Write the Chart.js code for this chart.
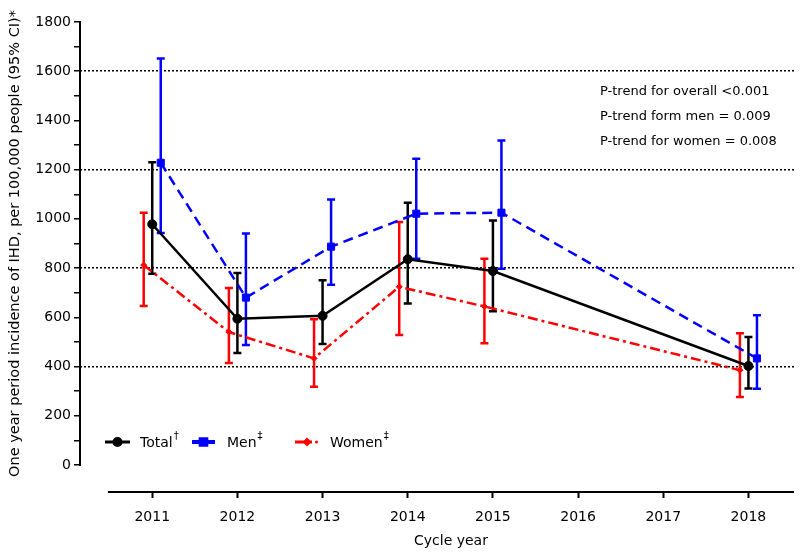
<!DOCTYPE html>
<html>
<head>
<meta charset="utf-8">
<title>IHD incidence by cycle year</title>
<script src="https://cdn.jsdelivr.net/npm/chart.js@4.4.0/dist/chart.umd.min.js"></script>
<style>
  html, body { margin: 0; padding: 0; background: #fff; }
  #wrap { width: 800px; height: 557px; position: relative; }
</style>
</head>
<body>
<div id="wrap"><canvas id="ihd-chart"></canvas></div>
<script>
// values
const years = [2011, 2012, 2013, 2014, 2015, 2018];
const xTicks = [2011, 2012, 2013, 2014, 2015, 2016, 2017, 2018];

const totalRate = [978, 594, 606, 836, 788, 402];
const totalLow = [777, 455, 491, 656, 625, 311];
const totalHigh = [1230, 780, 751, 1065, 993, 520];

const menRate = [1228, 680, 887, 1021, 1025, 433];
const menLow = [943, 487, 732, 838, 797, 310];
const menHigh = [1652, 940, 1079, 1244, 1318, 608];

const womenRate = [812, 540, 433, 724, 644, 385];
const womenLow = [646, 414, 318, 528, 494, 276];
const womenHigh = [1025, 719, 592, 987, 838, 535];

const yMajor = 200;
const yMinor = 100;
const yMax = 1800;
const gridValues = [400, 800, 1200, 1600];

const notes = [
    'P-trend for overall <0.001',
    'P-trend form men = 0.009',
    'P-trend for women = 0.008'
];

const FONT = "'DejaVu Sans', sans-serif";

// small dodge so the three series don't sit on top of each other
const menShift = 0.1;
const womenShift = -0.1;

function toPoints(rates, shift) {
    return years.map((yr, i) => ({ x: yr + shift, y: rates[i] }));
}

// error bars drawn from the low/high arrays through the y scale
const errorBars = {
    id: 'errorBars',
    beforeDatasetsDraw(chart) {
        const ctx = chart.ctx;
        const yScale = chart.scales.y;
        chart.data.datasets.forEach((ds, di) => {
            const meta = chart.getDatasetMeta(di);
            ctx.save();
            ctx.strokeStyle = ds.borderColor;
            ctx.lineWidth = 2.5;
            ctx.setLineDash([]);
            meta.data.forEach((pt, i) => {
                const top = yScale.getPixelForValue(ds.high[i]);
                const bot = yScale.getPixelForValue(ds.low[i]);
                ctx.beginPath();
                ctx.moveTo(pt.x, top);
                ctx.lineTo(pt.x, bot);
                ctx.moveTo(pt.x - 4, top);
                ctx.lineTo(pt.x + 4, top);
                ctx.moveTo(pt.x - 4, bot);
                ctx.lineTo(pt.x + 4, bot);
                ctx.stroke();
            });
            ctx.restore();
        });
    }
};

// detached axis lines, titles, legend and the p-trend notes
const decorations = {
    id: 'decorations',
    afterDraw(chart) {
        const ctx = chart.ctx;
        const x = chart.scales.x;
        const y = chart.scales.y;
        const area = chart.chartArea;
        const xStart = x.getPixelForValue(2010.48);

        ctx.save();
        ctx.strokeStyle = '#000';
        ctx.lineWidth = 2;
        ctx.setLineDash([]);
        ctx.beginPath();
        ctx.moveTo(area.left, y.getPixelForValue(0) + 1);
        ctx.lineTo(area.left, y.getPixelForValue(yMax) - 1);
        ctx.moveTo(xStart, area.bottom);
        ctx.lineTo(area.right, area.bottom);
        ctx.stroke();

        ctx.fillStyle = '#000';
        ctx.font = '14px ' + FONT;
        ctx.textAlign = 'center';
        ctx.textBaseline = 'middle';
        ctx.fillText('Cycle year', (xStart + area.right) / 2, 541);

        ctx.save();
        ctx.font = '14.5px ' + FONT;
        ctx.translate(15, (y.getPixelForValue(0) + y.getPixelForValue(yMax)) / 2);
        ctx.rotate(-Math.PI / 2);
        ctx.fillText('One year period incidence of IHD, per 100,000 people (95% CI)*', 0, 0);
        ctx.restore();

        ctx.font = '13px ' + FONT;
        ctx.textAlign = 'left';
        notes.forEach((t, i) => ctx.fillText(t, 600, 92 + i * 25));

        // legend
        const ly = 442;
        const items = [
            { ds: chart.data.datasets[0], x0: 105, x1: 130, label: 'Total', mark: '\u2020', tx: 140 },
            { ds: chart.data.datasets[1], x0: 192, x1: 215, label: 'Men', mark: '\u2021', tx: 227 },
            { ds: chart.data.datasets[2], x0: 295, x1: 312, label: 'Women', mark: '\u2021', tx: 330 }
        ];
        items.forEach(it => {
            ctx.strokeStyle = it.ds.borderColor;
            ctx.fillStyle = it.ds.borderColor;
            ctx.lineWidth = it.ds.label === 'Men' ? 4 : 3;
            ctx.beginPath();
            ctx.moveTo(it.x0, ly);
            ctx.lineTo(it.x1, ly);
            ctx.stroke();
            const cx = it.label === 'Women' ? 307 : (it.x0 + it.x1) / 2;
            Chart.helpers.drawPoint(ctx, {
                pointStyle: it.ds.pointStyle,
                radius: it.ds.pointRadius * 0.8,
                borderWidth: 0.5
            }, cx, ly);
            if (it.label === 'Women') {
                ctx.beginPath();
                ctx.arc(316.5, ly, 1.5, 0, Math.PI * 2);
                ctx.fill();
            }
            ctx.fillStyle = '#000';
            ctx.font = '14px ' + FONT;
            ctx.textBaseline = 'middle';
            ctx.fillText(it.label, it.tx, ly + 1);
            const w = ctx.measureText(it.label).width;
            ctx.font = '10px ' + FONT;
            ctx.fillText(it.mark, it.tx + w + 1, ly - 6);
        });
        ctx.restore();
    }
};

const ctx = document.getElementById('ihd-chart').getContext('2d');
new Chart(ctx, {
    type: 'line',
    data: {
        datasets: [
            {
                label: 'Total',
                data: toPoints(totalRate, 0),
                low: totalLow,
                high: totalHigh,
                borderColor: '#000000',
                backgroundColor: '#000000',
                borderWidth: 2.5,
                pointStyle: 'circle',
                pointRadius: 4.5,
                pointBorderWidth: 1
            },
            {
                label: 'Men',
                data: toPoints(menRate, menShift),
                low: menLow,
                high: menHigh,
                borderColor: '#0000ff',
                backgroundColor: '#0000ff',
                borderWidth: 2.5,
                borderDash: [10, 6],
                pointStyle: 'rect',
                pointRadius: 5,
                pointBorderWidth: 1
            },
            {
                label: 'Women',
                data: toPoints(womenRate, womenShift),
                low: womenLow,
                high: womenHigh,
                borderColor: '#ff0000',
                backgroundColor: '#ff0000',
                borderWidth: 2.5,
                borderDash: [10, 4, 3, 4],
                pointStyle: 'rectRot',
                pointRadius: 3,
                pointBorderWidth: 1
            }
        ]
    },
    options: {
        responsive: true,
        maintainAspectRatio: false,
        animation: false,
        layout: { padding: { top: 22, right: 5, left: 0, bottom: 0 } },
        plugins: {
            legend: { display: false },
            tooltip: { enabled: false }
        },
        scales: {
            x: {
                type: 'linear',
                min: 2010.152,
                max: 2018.535,
                afterBuildTicks: s => { s.ticks = xTicks.map(v => ({ value: v })); },
                afterFit: s => { s.height = 65; },
                border: { display: false },
                grid: {
                    color: 'rgba(0,0,0,0)',
                    drawTicks: true,
                    tickColor: '#000',
                    tickLength: 6,
                    tickWidth: 2
                },
                ticks: {
                    color: '#000',
                    font: { family: FONT, size: 14 },
                    padding: 11,
                    callback: v => String(v)
                }
            },
            y: {
                min: -110,
                max: yMax,
                afterBuildTicks: s => {
                    const t = [];
                    for (let v = 0; v <= yMax; v += yMinor) t.push({ value: v });
                    s.ticks = t;
                },
                afterFit: s => { s.width = 80; },
                border: { display: false, dash: [2, 2] },
                grid: {
                    color: c => gridValues.includes(c.tick && c.tick.value) ? '#000' : 'rgba(0,0,0,0)',
                    lineWidth: 1.5,
                    drawTicks: true,
                    tickColor: '#000',
                    tickLength: 6,
                    tickWidth: 1.5
                },
                ticks: {
                    color: '#000',
                    font: { family: FONT, size: 14 },
                    padding: 3,
                    autoSkip: false,
                    callback: v => (v % yMajor === 0 ? String(v) : '')
                }
            }
        }
    },
    plugins: [errorBars, decorations]
});
</script>
</body>
</html>
